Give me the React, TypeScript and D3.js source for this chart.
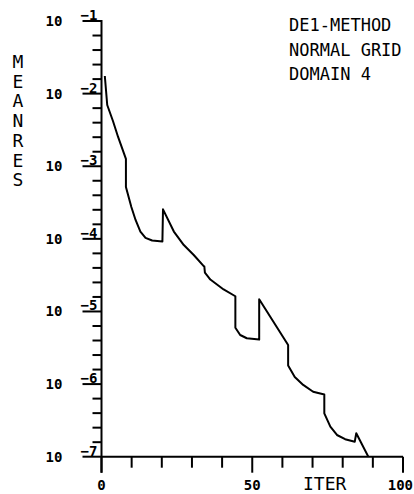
import React from "react";
import * as d3 from "d3";

// Iteration number vs. mean residual
const iterations = [
  1.1, 1.9, 3.8, 5.5, 8.1, 8.1, 9.9, 11.3, 12.9, 14.6, 16.8, 20.2, 20.4, 24.0, 27.3,
  30.6, 33.9, 34.1, 34.3, 36.1, 40.5, 44.4, 44.4, 46.0, 48.2, 52.3, 52.3, 61.9, 61.9,
  64.1, 66.9, 70.2, 73.9, 73.9, 75.9, 78.1, 80.8, 84.0, 84.5, 88.5,
];
const meanres = [
  1.75e-2, 6.97e-3, 4.2e-3, 2.53e-3, 1.26e-3, 5.18e-4, 2.75e-4, 1.82e-4, 1.26e-4, 1.03e-4,
  9.48e-5, 9.2e-5, 2.55e-4, 1.26e-4, 8.22e-5, 6.0e-5, 4.21e-5, 4.17e-5, 3.42e-5, 2.75e-5,
  2.01e-5, 1.62e-5, 5.96e-6, 4.74e-6, 4.28e-6, 4.1e-6, 1.47e-5, 3.46e-6, 1.8e-6, 1.25e-6,
  9.73e-7, 7.85e-7, 7.19e-7, 3.96e-7, 2.59e-7, 1.99e-7, 1.74e-7, 1.61e-7, 2.1e-7, 1.0e-7,
];

const decadeExponents = [-1, -2, -3, -4, -5, -6, -7];
const minorPerDecade = [1, 2, 3, 4];
const xTicks = [0, 10, 20, 30, 40, 50, 60, 70, 80, 90, 100];
const xLabelTicks = [0, 50, 100];
const titleLines = ["DE1-METHOD", "NORMAL GRID", "DOMAIN 4"];
const yAxisTitle = "MEANRES";
const xAxisTitle = "ITER";

const FONT = "'DejaVu Sans Mono', monospace";

export default function App() {
  const W = 414;
  const H = 494;
  const x = d3.scaleLinear().domain([0, 100]).range([101.5, 403]);
  const y = d3.scaleLog().domain([1e-7, 1e-1]).range([456.7, 21]);
  const x0 = x(0);
  const yBottom = y(1e-7);

  const pts: [number, number][] = iterations.map((it, i) => [it, meanres[i]]);
  const path = d3
    .line<[number, number]>()
    .x((d) => x(d[0]))
    .y((d) => y(d[1]))(pts) as string;

  const minorTicks: number[] = [];
  decadeExponents.slice(0, -1).forEach((e) => {
    minorPerDecade.forEach((k) => minorTicks.push(Math.pow(10, e - k * 0.2)));
  });

  return (
    <svg
      width={W}
      height={H}
      style={{ position: "absolute", left: 0, top: 0, background: "#fff" }}
      fontFamily={FONT}
    >
      <rect width={W} height={H} fill="#fff" />
      <defs>
        <clipPath id="plot">
          <rect x={x0} y={0} width={x(100) - x0} height={yBottom} />
        </clipPath>
      </defs>

      {/* y axis */}
      <line x1={x0} x2={x0} y1={y(1e-1) - 1} y2={yBottom + 16} stroke="#000" strokeWidth={2} />
      {minorTicks.map((v, i) => (
        <line key={"mn" + i} x1={x0 - 9} x2={x0} y1={y(v)} y2={y(v)} stroke="#000" strokeWidth={2} />
      ))}
      {decadeExponents.map((e) => {
        const yy = y(Math.pow(10, e));
        return (
          <g key={"dec" + e}>
            <line x1={x0 - 19} x2={x0} y1={yy} y2={yy} stroke="#000" strokeWidth={2} />
            <text x={54} y={yy + 5} fontSize={14} fontWeight="bold" textAnchor="middle">
              10
            </text>
            <text x={89} y={yy - 1} fontSize={14} fontWeight="bold" textAnchor="middle">
              {"\u2212" + Math.abs(e)}
            </text>
          </g>
        );
      })}

      {/* x axis */}
      <line x1={x0} x2={x(100)} y1={yBottom} y2={yBottom} stroke="#000" strokeWidth={2} />
      {xTicks.map((t) => (
        <line
          key={"xt" + t}
          x1={x(t)}
          x2={x(t)}
          y1={yBottom}
          y2={yBottom + (t % 50 === 0 ? 16 : 11)}
          stroke="#000"
          strokeWidth={2}
        />
      ))}
      {xLabelTicks.map((t) => (
        <text
          key={"xl" + t}
          x={t === 100 ? W - 1 : x(t)}
          y={490}
          fontSize={14}
          fontWeight="bold"
          textAnchor={t === 100 ? "end" : "middle"}
        >
          {t}
        </text>
      ))}
      <text x={303} y={490} fontSize={18}>
        {xAxisTitle}
      </text>

      {/* y axis title, stacked letters */}
      {yAxisTitle.split("").map((ch, i) => (
        <text key={"yl" + i} x={18} y={68 + i * 19.7} fontSize={18} textAnchor="middle">
          {ch}
        </text>
      ))}

      {/* title block */}
      {titleLines.map((s, i) => (
        <text key={"tt" + i} x={289} y={31 + i * 24.5} fontSize={17}>
          {s}
        </text>
      ))}

      {/* data */}
      <path d={path} fill="none" stroke="#000" strokeWidth={2} strokeLinejoin="round" clipPath="url(#plot)" />
    </svg>
  );
}
